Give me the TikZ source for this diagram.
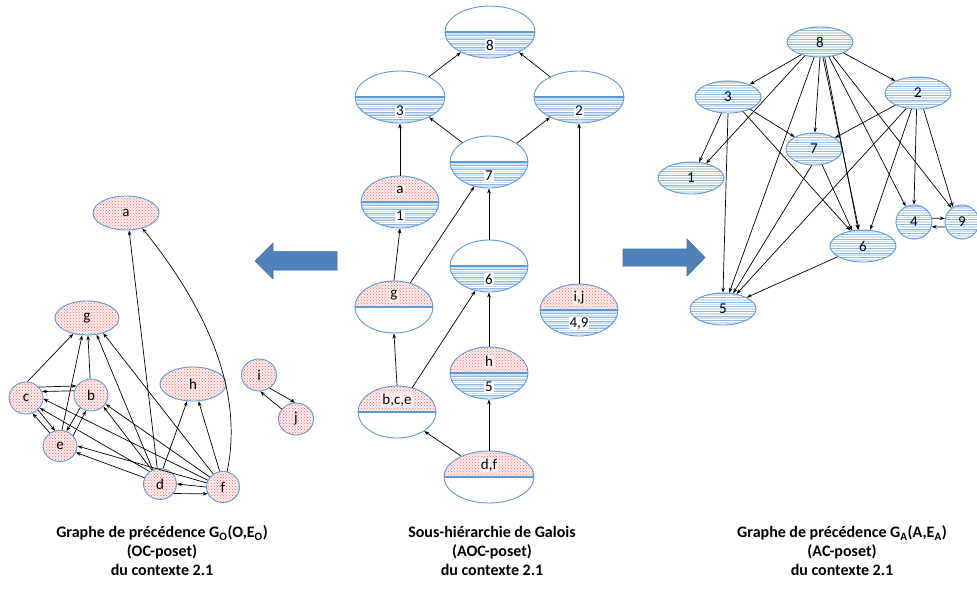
\documentclass[tikz,border=0pt]{standalone}
\usepackage{fontspec}
\setmainfont{Carlito}
\usetikzlibrary{arrows.meta,shapes.geometric,patterns}
\definecolor{nodeblue}{HTML}{5B9BD5}
\definecolor{stripeLight}{HTML}{CFE1F3}
\definecolor{stripeMid}{HTML}{8FB8E2}
\definecolor{dotred}{HTML}{F26B6B}
\definecolor{pinkbg}{HTML}{FDEDED}
\definecolor{arrowblue}{HTML}{4F81BD}
\definecolor{arrowedge}{HTML}{41719C}
\newcommand\MyUpDots{%
  \fill[pinkbg] (path picture bounding box.north west) rectangle (path picture bounding box.east);
  \fill[pattern=crosshatch dots, pattern color=dotred] (path picture bounding box.north west) rectangle (path picture bounding box.east);}
\newcommand\MyFullDots{%
  \fill[pinkbg] (path picture bounding box.north west) rectangle (path picture bounding box.south east);
  \fill[pattern=crosshatch dots, pattern color=dotred] (path picture bounding box.north west) rectangle (path picture bounding box.south east);}
\newcommand\MyLowStripes{%
  \foreach \k in {1,...,8} {
    \draw[stripeLight, line width=1.6pt] ([yshift=-\k*3.7pt+1.7pt]path picture bounding box.west) -- ([yshift=-\k*3.7pt+1.7pt]path picture bounding box.east);
    \draw[stripeMid, line width=0.5pt] ([yshift=-\k*3.7pt]path picture bounding box.west) -- ([yshift=-\k*3.7pt]path picture bounding box.east);}}
\newcommand\MyDivider{%
  \draw[nodeblue, line width=1.3pt] (path picture bounding box.west) -- (path picture bounding box.east);}
\newcommand\MyFullStripes{%
  \foreach \k in {-5,...,5} {
    \draw[stripeLight, line width=1.8pt] ([yshift=\k*4.6pt]path picture bounding box.west) -- ([yshift=\k*4.6pt]path picture bounding box.east);
    \draw[stripeMid, line width=0.5pt] ([yshift=\k*4.6pt+2.3pt]path picture bounding box.west) -- ([yshift=\k*4.6pt+2.3pt]path picture bounding box.east);}}
\tikzset{
  ellbase/.style={ellipse, draw=nodeblue, line width=0.9pt, inner sep=0pt, font=\fontsize{15}{18}\selectfont},
  dotnode/.style={ellbase, path picture={\MyFullDots}},
  stripenode/.style={ellbase, path picture={\MyFullStripes}},
  midAB/.style={ellbase, path picture={\MyUpDots\MyLowStripes\MyDivider}},
  midB/.style={ellbase, path picture={\MyLowStripes\MyDivider}},
  midA/.style={ellbase, path picture={\MyUpDots\MyDivider}},
  wide/.style={minimum width=90pt, minimum height=52pt},
  narrow/.style={minimum width=78pt, minimum height=52pt},
  toplbl/.style={font=\fontsize{15}{18}\selectfont, inner sep=1pt, fill=pinkbg},
  botlbl/.style={font=\fontsize{15}{18}\selectfont, inner sep=1pt, fill=white},
  edge/.style={draw=black, line width=0.7pt, -{Stealth[length=5pt,width=3.6pt]}},
  bigarrow/.style={fill=arrowblue, draw=arrowedge, line width=0.6pt},
  caption/.style={align=center, font=\bfseries\fontsize{16}{19}\selectfont, inner sep=0pt}
}
\begin{document}
\begin{tikzpicture}[x=1pt,y=-1pt]
\fill[white] (0,0) rectangle (977,590);
\useasboundingbox (0,0) rectangle (977,590);

% ---------- left graph (OC-poset) ----------
\node[dotnode, minimum width=66pt, minimum height=34pt] (La) at (126,213) {a};
\node[dotnode, minimum width=64pt, minimum height=34pt] (Lg) at (87,318) {g};
\node[dotnode, minimum width=34pt, minimum height=32pt] (Lc) at (26,398) {c};
\node[dotnode, minimum width=34pt, minimum height=32pt] (Lb) at (91,395) {b};
\node[dotnode, minimum width=34pt, minimum height=31pt] (Le) at (60,446) {e};
\node[dotnode, minimum width=66pt, minimum height=34pt] (Lh) at (193,384) {h};
\node[dotnode, minimum width=35pt, minimum height=32pt] (Li) at (259,375) {i};
\node[dotnode, minimum width=35pt, minimum height=32pt] (Lj) at (296,419) {j};
\node[dotnode, minimum width=33pt, minimum height=31pt] (Ld) at (160,484) {d};
\node[dotnode, minimum width=33pt, minimum height=31pt] (Lf) at (223,487) {f};

\draw[edge] (Lc.85) -- (Lg.229);
\draw[edge] (Le.83) -- (Lg.254);
\draw[edge] (Lb.93) -- (Lg.273);
\draw[edge] (Ld.117) -- (Lg.300);
\draw[edge] (Lf.127) -- (Lg.317);
\draw[edge] (Ld.100) -- (La.280);
\draw[edge] (Lf.75) .. controls (242,400) and (216,320) .. (La.317);
\draw[edge] (Ld.79) -- (Lh.251);
\draw[edge] (Lf.102) -- (Lh.288);
\draw[edge] (Lc.40) -- (Lb.148);
\draw[edge] (Lb.166) -- (Lc.22);
\draw[edge] (Lc.315) -- (Le.108);
\draw[edge] (Le.128) -- (Lc.293);
\draw[edge] (Lb.230) -- (Le.66);
\draw[edge] (Le.38) -- (Lb.252);
\draw[edge] (Ld.130) -- (Lc.324);
\draw[edge] (Ld.158) -- (Le.338);
\draw[edge] (Ld.120) -- (Lb.317);
\draw[edge] (Lf.156) -- (Lc.357);
\draw[edge] (Lf.166) -- (Le.0);
\draw[edge] (Lf.143) -- (Lb.328);
\draw[edge] (Lf.180) -- (Ld.0);
\draw[edge] (Ld.325) -- (Lf.204);
\draw[edge] (Li.309) -- (Lj.93);
\draw[edge] (Lj.145) -- (Li.274);

% ---------- block arrows ----------
\path[bigarrow] (337,251.7) -- (273,251.7) -- (273,243) -- (255,261) -- (273,279) -- (273,270) -- (337,270) -- cycle;
\path[bigarrow] (623,249) -- (687,249) -- (687,239) -- (705,257.5) -- (687,276) -- (687,266) -- (623,266) -- cycle;

% ---------- middle graph (AOC-poset) ----------
\node[midB, wide] (M8) at (490,32) {};
\node[midB, wide] (M3) at (400,97) {};
\node[midB, wide] (M2) at (579,97) {};
\node[midB, narrow] (M7) at (489,162) {};
\node[midAB, narrow] (Ma1) at (400,202) {};
\node[midB, narrow] (M6) at (489,266) {};
\node[midA, narrow] (Mg) at (394,307) {};
\node[midAB, narrow] (Mij) at (579,310) {};
\node[midAB, narrow] (Mh5) at (489,373) {};
\node[midA, narrow] (Mbce) at (397,412) {};
\node[midA, wide] (Mdf) at (489,477) {};

\node[botlbl] (M8b) at ([yshift=-13.5pt]M8.center) {8};
\node[botlbl] (M3b) at ([yshift=-13.5pt]M3.center) {3};
\node[botlbl] (M2b) at ([yshift=-13.5pt]M2.center) {2};
\node[botlbl] (M7b) at ([yshift=-13.5pt]M7.center) {7};
\node[toplbl] (Ma1t) at ([yshift=12pt]Ma1.center) {a};
\node[botlbl] (Ma1b) at ([yshift=-13.5pt]Ma1.center) {1};
\node[botlbl] (M6b) at ([yshift=-13.5pt]M6.center) {6};
\node[toplbl] (Mgt) at ([yshift=12pt]Mg.center) {g};
\node[toplbl] (Mijt) at ([yshift=12pt]Mij.center) {i,j};
\node[botlbl] (Mijb) at ([yshift=-13.5pt]Mij.center) {4,9};
\node[toplbl] (Mh5t) at ([yshift=12pt]Mh5.center) {h};
\node[botlbl] (Mh5b) at ([yshift=-13.5pt]Mh5.center) {5};
\node[toplbl] (Mbcet) at ([yshift=12pt]Mbce.center) {b,c,e};
\node[toplbl] (Mdft) at ([yshift=12pt]Mdf.center) {d,f};

\draw[edge] (M3.35) -- (M8.215);
\draw[edge] (M2.145) -- (M8.325);
\draw[edge] (M7.144) -- (M3.325);
\draw[edge] (M7.34) -- (M2.215);
\draw[edge] (Ma1.north) -- (M3.south);
\draw[edge] (Mg.north) -- (Ma1.south);
\draw[edge] (Mg.56) -- (M7.239);
\draw[edge] (M6.north) -- (M7.south);
\draw[edge] (Mbce.north) -- (Mg.south);
\draw[edge] (Mbce.58) -- (M6.241);
\draw[edge] (Mh5.north) -- (M6.south);
\draw[edge] (Mdf.north) -- (Mh5.south);
\draw[edge] (Mdf.143) -- (Mbce.325);
\draw[edge] (Mij.north) -- (M2.south);

% ---------- right graph (AC-poset) ----------
\node[stripenode, minimum width=66pt, minimum height=30pt] (R8) at (820,42) {8};
\node[stripenode, minimum width=66pt, minimum height=32pt] (R3) at (728,97) {3};
\node[stripenode, minimum width=66pt, minimum height=32pt] (R2) at (918,93) {2};
\node[stripenode, minimum width=56pt, minimum height=32pt] (R7) at (814,149) {7};
\node[stripenode, minimum width=66pt, minimum height=32pt] (R1) at (691,178) {1};
\node[stripenode, minimum width=36pt, minimum height=34pt] (R4) at (914,222) {4};
\node[stripenode, minimum width=34pt, minimum height=34pt] (R9) at (962,222) {9};
\node[stripenode, minimum width=66pt, minimum height=32pt] (R6) at (863,246) {6};
\node[stripenode, minimum width=66pt, minimum height=32pt] (R5) at (723,309) {5};

\draw[edge] (R8.214) -- (R3.30);
\draw[edge] (R8.335) -- (R2.152);
\draw[edge] (R8.222) -- (R1.44);
\draw[edge] (R8.249) -- (R5.69);
\draw[edge] (R8.south) -- (R7.87);
\draw[edge] (R8.281) -- (R6.104);
\draw[edge] (R8.287) -- (R6.107);
\draw[edge] (R8.301) -- (R4.118);
\draw[edge] (R8.312) -- (R9.127);
\draw[edge] (R3.248) -- (R1.63);
\draw[edge] (R3.south) -- (R5.north);
\draw[edge] (R3.331) -- (R7.148);
\draw[edge] (R3.316) -- (R6.129);
\draw[edge] (R2.208) -- (R7.28);
\draw[edge] (R2.233) -- (R5.48);
\draw[edge] (R2.248) -- (R6.66);
\draw[edge] (R2.265) -- (R4.north);
\draw[edge] (R2.289) -- (R9.121);
\draw[edge] (R7.297) -- (R6.125);
\draw[edge] (R7.262) -- (R5.57);
\draw[edge] (R6.203) -- (R5.26);
\draw[edge] (R4.12) -- (R9.168);
\draw[edge] (R9.197) -- (R4.345);

% ---------- captions ----------
\node[caption] (cap1) at (162,551) {Graphe de précédence G\textsubscript{O}(O,E\textsubscript{O})\\(OC-poset)\\du contexte 2.1};
\node[caption] (cap2) at (492,551) {Sous-hiérarchie de Galois\\(AOC-poset)\\du contexte 2.1};
\node[caption] (cap3) at (842,551) {Graphe de précédence G\textsubscript{A}(A,E\textsubscript{A})\\(AC-poset)\\du contexte 2.1};
\end{tikzpicture}
\end{document}
